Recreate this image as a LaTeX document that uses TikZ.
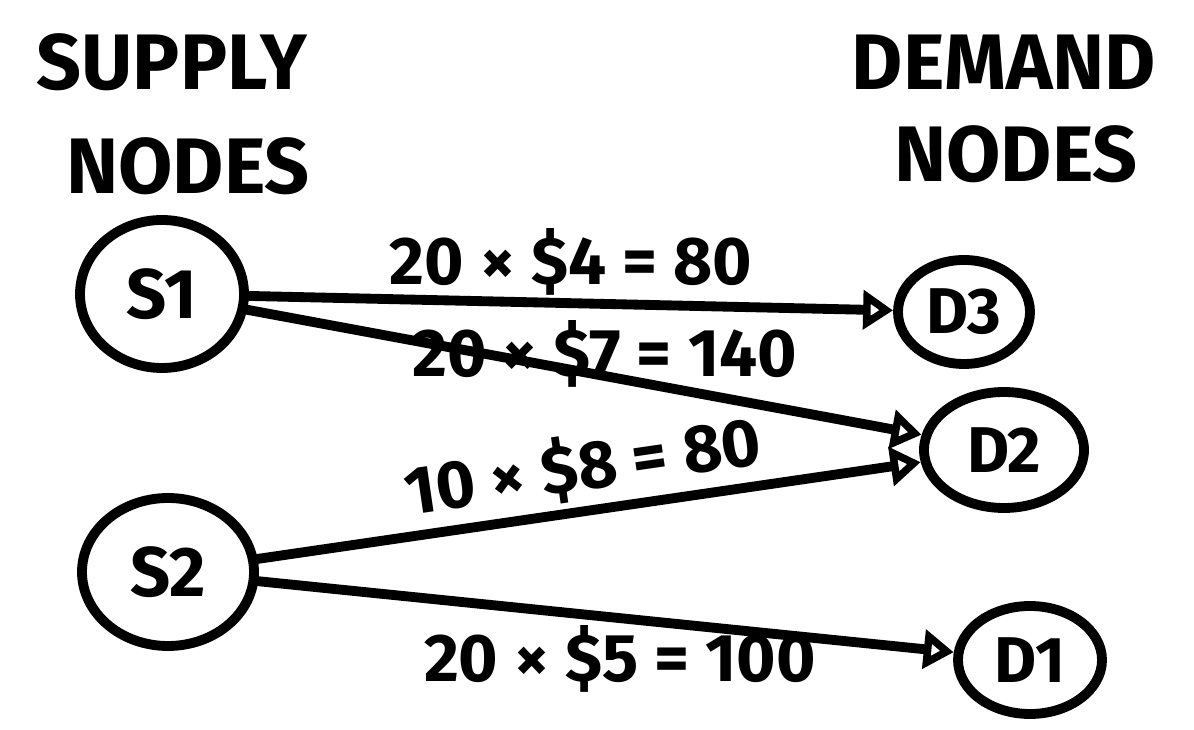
\documentclass[tikz,border=0pt]{standalone}
\usepackage{fontspec}
\setmainfont{Fira Sans}
\usepackage{tikz}
\usetikzlibrary{arrows.meta, calc, positioning, shapes.geometric}

\begin{document}
\begin{tikzpicture}[
        font=\bfseries,
        >={Triangle[open, length=0.75cm, width=0.95cm]},
        line width=7pt,
        line cap=round,
        title/.style={
            align=center,
            font=\fontsize{56}{60}\selectfont\bfseries
        },
        supply/.style={
            draw, ellipse,
            inner sep=0pt,
            font=\fontsize{50}{54}\selectfont\bfseries
        },
        demand/.style={
            draw, ellipse,
            inner sep=0pt,
            font=\fontsize{46}{50}\selectfont\bfseries
        },
        cost/.style={
            inner sep=2pt,
            font=\fontsize{48}{52}\selectfont\bfseries
        },
    ]
    \useasboundingbox (0,0) rectangle (29.85,18.25);

    %============================================================
    % Headings
    %============================================================
    \node[title] (SUPH) at (4.3, 16.7) {SUPPLY};
    \node[title] (SUPN) at (4.7, 14.1) {NODES};
    \node[title] (DEMH) at (25.1, 16.7) {DEMAND};
    \node[title] (DEMN) at (25.4, 14.4) {NODES};

    %============================================================
    % Supply nodes
    %============================================================
    \node[supply, minimum width=4.1cm, minimum height=3.7cm] (S1) at (4.05, 10.9) {S1};
    \node[supply, minimum width=4.3cm, minimum height=3.7cm] (S2) at (4.2, 3.95) {S2};

    %============================================================
    % Demand nodes
    %============================================================
    \node[demand, minimum width=3.3cm, minimum height=2.6cm] (D3) at (24.1, 10.45) {D3};
    \node[demand, minimum width=4.0cm, minimum height=2.9cm] (D2) at (25.1, 7.0) {D2};
    \node[demand, minimum width=3.6cm, minimum height=2.7cm] (D1) at (25.75, 1.75) {D1};

    %============================================================
    % Flows: amount x unit cost = total
    %============================================================
    \draw[->] (S1) -- node[cost, above] {20 × \$4 = 80} (D3);
    \draw[->] (S1) -- node[cost, pos=0.53, yshift=0.55cm] {20 × \$7 = 140} (D2);
    \draw[->] (S2) -- node[cost, above, sloped, inner sep=4pt] {10 × \$8 = 80} (D2);
    \draw[->] (S2) -- node[cost, below, pos=0.52] {20 × \$5 = 100} (D1);

    \end{tikzpicture}
\end{document}
